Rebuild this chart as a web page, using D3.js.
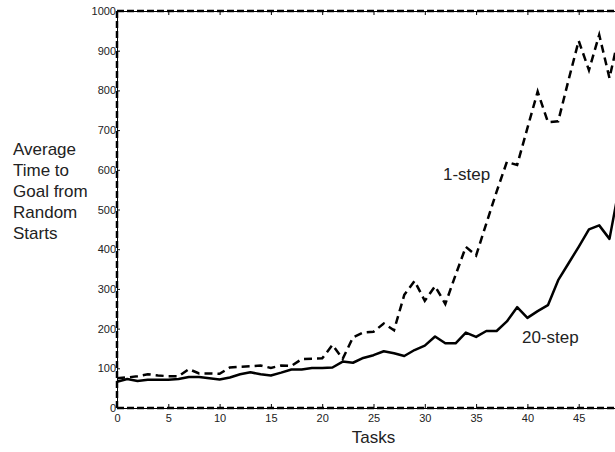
<!DOCTYPE html>
<html>
<head>
  <meta charset="utf-8">
  <title>Average time to goal</title>
  <script src="https://d3js.org/d3.v7.min.js"></script>
  <style>
    body { margin: 0; background: #fff; }
    svg text { font-family: "Liberation Sans", Arial, Helvetica, sans-serif; fill: #222; }
  </style>
</head>
<body>
<script>
// data
var tasks = [0,1,2,3,4,5,6,7,8,9,10,11,12,13,14,15,16,17,18,19,20,21,22,23,24,
             25,26,27,28,29,30,31,32,33,34,35,36,37,38,39,40,41,42,43,44,45,46,47,48,49];
var oneStep = [75,77,80,85,82,80,80,98,87,87, 86,102,104,105,107,101,107,106,123,124,
               125,159,124,178,190,192,213,196,285,320, 270,307,262,335,406,384,465,545,620,612,
               705,797,720,722,825,925,851,940,831,947];
var twentyStep = [66,73,68,71,71,71,73,78,78,75, 72,77,85,90,85,82,89,97,97,101,
                  101,102,117,114,126,133,143,138,131,146, 157,180,163,163,190,179,194,194,218,254,
                  227,244,259,322,364,406,450,460,426,563];
var xTicks = [0,5,10,15,20,25,30,35,40,45];
var yTicks = [0,100,200,300,400,500,600,700,800,900,1000];
var yTitle = ["Average", "Time to", "Goal from", "Random", "Starts"];

function drawChart() {
  var width = 615, height = 452;
  var mLeft = 117, mRight = 630, mTop = 11, mBottom = 408;

  var svg = d3.select("body").append("svg").attr("width", width).attr("height", height);

  var x = d3.scaleLinear().domain([0, 50]).range([mLeft, mRight]);
  var y = d3.scaleLinear().domain([0, 1000]).range([mBottom, mTop]);

  // axes with inward ticks
  var gx = svg.append("g").attr("transform", "translate(0," + mBottom + ")")
    .call(d3.axisBottom(x).tickValues(xTicks).tickSizeInner(-4).tickSizeOuter(0).tickPadding(6));
  var gxt = svg.append("g").attr("transform", "translate(0," + mTop + ")")
    .call(d3.axisTop(x).tickValues(xTicks).tickSizeInner(-4).tickSizeOuter(0).tickFormat(""));
  var gy = svg.append("g").attr("transform", "translate(" + mLeft + ",0)")
    .call(d3.axisLeft(y).tickValues(yTicks).tickFormat(d3.format("d"))
      .tickSizeInner(-3).tickSizeOuter(0).tickPadding(1));

  [gx, gxt, gy].forEach(function(g) {
    g.select(".domain").attr("stroke", "#000").attr("stroke-width", 1);
    g.selectAll(".tick line").attr("stroke", "#000").attr("stroke-width", 1);
    g.selectAll("text").style("font-size", "11px").attr("fill", "#222");
  });

  // dashed frame
  var frame = svg.append("g").attr("fill", "none").attr("stroke", "#000")
    .attr("stroke-width", 2.5).attr("stroke-dasharray", "7,3");
  frame.append("line").attr("x1", mLeft).attr("x2", mRight).attr("y1", mTop).attr("y2", mTop);
  frame.append("line").attr("x1", mLeft).attr("x2", mRight).attr("y1", mBottom).attr("y2", mBottom);
  frame.append("line").attr("x1", mLeft).attr("x2", mLeft).attr("y1", mTop).attr("y2", mBottom);

  // series
  var line = function(vals) {
    return d3.line().x(function(d, i) { return x(tasks[i]); }).y(function(d) { return y(d); })(vals);
  };
  svg.append("path").attr("d", line(oneStep)).attr("fill", "none").attr("stroke", "#000")
    .attr("stroke-width", 2.5).attr("stroke-dasharray", "8,5");
  svg.append("path").attr("d", line(twentyStep)).attr("fill", "none").attr("stroke", "#000")
    .attr("stroke-width", 2.5).attr("stroke-linejoin", "round");

  // labels
  svg.append("text").attr("x", 443).attr("y", 180).style("font-size", "17px").text("1-step");
  svg.append("text").attr("x", 522).attr("y", 343).style("font-size", "17px").text("20-step");
  svg.append("text").attr("x", (mLeft + mRight) / 2).attr("y", 443).attr("text-anchor", "middle")
    .style("font-size", "17px").text("Tasks");
  svg.append("g").selectAll("text").data(yTitle).enter().append("text")
    .attr("x", 13).attr("y", function(d, i) { return 155 + i * 21; })
    .style("font-size", "17px").text(function(d) { return d; });
}

drawChart();
</script>
</body>
</html>
